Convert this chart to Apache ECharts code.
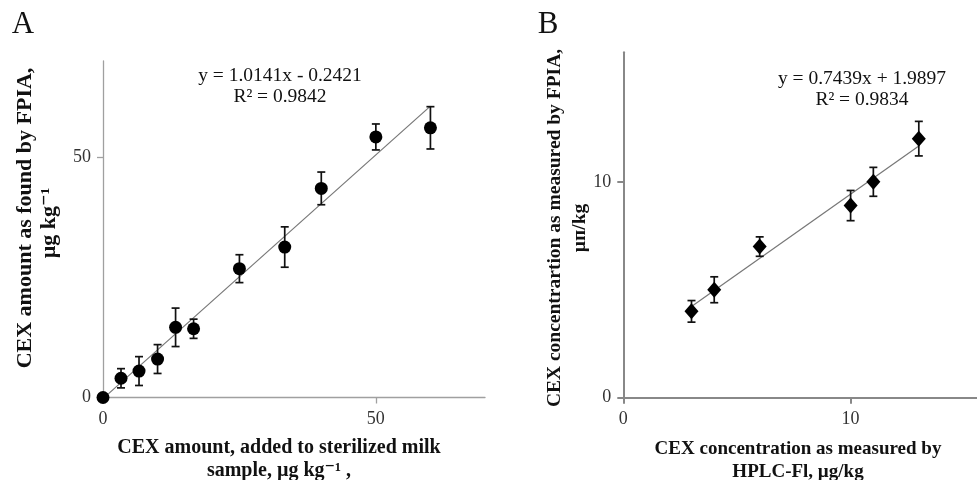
<!DOCTYPE html>
<html>
<head>
<meta charset="utf-8">
<script src="https://cdn.jsdelivr.net/npm/echarts@6/dist/echarts.min.js"></script>
<style>html,body{margin:0;padding:0;background:#fff;}#c{width:977px;height:480px;}</style>
</head>
<body>
<div id="c"></div>
<script>
// Panel A data
const aX = [0, 3.3, 6.6, 10, 13.3, 16.6, 25, 33.3, 40, 50, 60];
const aY = [0, 4.0, 5.5, 8.0, 14.6, 14.3, 26.8, 31.3, 43.5, 54.2, 56.1];
const aErr = [0, 2.0, 3.0, 3.0, 4.0, 2.0, 2.9, 4.2, 3.4, 2.7, 4.4];
const aFit = {slope: 1.0141, intercept: -0.2421, from: 0, to: 60};
const aXTicks = [0, 50];
const aYTicks = [0, 50];
// Panel B data
const bX = [3, 4, 6, 10, 11, 13];
const bY = [4.0, 5.0, 7.0, 8.9, 10.0, 12.0];
const bErr = [0.5, 0.6, 0.45, 0.7, 0.67, 0.8];
const bFit = {slope: 0.7439, intercept: 1.9897, from: 3, to: 13};
const bXTicks = [0, 10];
const bYTicks = [0, 10];

const SERIF = '"Liberation Serif", "DejaVu Serif", serif';
const chart = echarts.init(document.getElementById('c'), null, {renderer: 'canvas'});

function fitLine(f) {
  return [[f.from, f.slope * f.from + f.intercept], [f.to, f.slope * f.to + f.intercept]];
}
function errData(xs, ys, es) {
  return xs.map((x, i) => [x, ys[i] - es[i], ys[i] + es[i]]);
}
function errRender(params, api) {
  const x = api.value(0), lo = api.value(1), hi = api.value(2);
  if (hi - lo <= 0) return null;
  const p1 = api.coord([x, lo]), p2 = api.coord([x, hi]);
  const w = 4;
  const st = {stroke: '#111', lineWidth: 1.7};
  return {type: 'group', children: [
    {type: 'line', shape: {x1: p1[0], y1: p1[1], x2: p2[0], y2: p2[1]}, style: st},
    {type: 'line', shape: {x1: p1[0] - w, y1: p1[1], x2: p1[0] + w, y2: p1[1]}, style: st},
    {type: 'line', shape: {x1: p2[0] - w, y1: p2[1], x2: p2[0] + w, y2: p2[1]}, style: st}
  ]};
}
function axisCfg(gi, max, ticks, lineColor, lw, margin) {
  return {
    gridIndex: gi, type: 'value', min: 0, max: max,
    splitLine: {show: false},
    axisLine: {onZero: false, lineStyle: {color: lineColor, width: lw}},
    axisTick: {show: true, length: 6, customValues: ticks, lineStyle: {color: lineColor, width: lw}},
    axisLabel: {customValues: ticks, fontFamily: SERIF, fontSize: 18, color: '#333', margin: margin}
  };
}
function txt(x, y, text, size, bold, rot) {
  return {type: 'text', x: x, y: y, rotation: rot || 0, silent: true,
    style: {text: text, fontFamily: SERIF, fontSize: size, fontWeight: bold ? 'bold' : 'normal',
      fill: '#111', align: 'center', verticalAlign: 'middle'}};
}

const option = {
  backgroundColor: '#fff',
  animation: false,
  grid: [
    {left: 103, top: 61, width: 382, height: 336.5, outerBoundsMode: 'none', containLabel: false},
    {left: 623.3, top: 52.3, width: 363.7, height: 345.4, outerBoundsMode: 'none', containLabel: false}
  ],
  xAxis: [axisCfg(0, 70, aXTicks, '#a0a0a0', 1.3, 13), axisCfg(1, 16, bXTicks, '#888', 2, 13)],
  yAxis: [axisCfg(0, 70, aYTicks, '#a0a0a0', 1.3, 12), axisCfg(1, 16, bYTicks, '#888', 2, 12)],
  series: [
    {type: 'line', xAxisIndex: 0, yAxisIndex: 0, data: fitLine(aFit), showSymbol: false, symbol: 'none',
      clip: false, lineStyle: {color: '#777', width: 1.2}, z: 1},
    {type: 'custom', xAxisIndex: 0, yAxisIndex: 0, data: errData(aX, aY, aErr), renderItem: errRender,
      encode: {x: 0, y: [1, 2]}, z: 2},
    {type: 'scatter', xAxisIndex: 0, yAxisIndex: 0, data: aX.map((x, i) => [x, aY[i]]),
      symbol: 'circle', symbolSize: 13, itemStyle: {color: '#000', opacity: 1}, clip: false, z: 3},
    {type: 'line', xAxisIndex: 1, yAxisIndex: 1, data: fitLine(bFit), showSymbol: false, symbol: 'none',
      lineStyle: {color: '#777', width: 1.2}, z: 1},
    {type: 'custom', xAxisIndex: 1, yAxisIndex: 1, data: errData(bX, bY, bErr), renderItem: errRender,
      encode: {x: 0, y: [1, 2]}, z: 2},
    {type: 'scatter', xAxisIndex: 1, yAxisIndex: 1, data: bX.map((x, i) => [x, bY[i]]),
      symbol: 'diamond', symbolSize: [14, 16], itemStyle: {color: '#000', opacity: 1}, z: 3}
  ],
  graphic: [
    txt(23, 25, 'A', 31, false),
    txt(548, 25, 'B', 31, false),
    txt(280, 76, 'y = 1.0141x - 0.2421', 19.5, false),
    txt(280, 97, 'R² = 0.9842', 19.5, false),
    txt(862, 79, 'y = 0.7439x + 1.9897', 19.5, false),
    txt(862, 100, 'R² = 0.9834', 19.5, false),
    txt(279, 448, 'CEX amount, added to sterilized milk', 20, true),
    txt(279, 471, 'sample, µg kg⁻¹ ,', 20, true),
    txt(798, 449, 'CEX concentration as measured by', 19, true),
    txt(798, 472, 'HPLC-Fl, µg/kg', 19, true),
    txt(25, 218, 'CEX amount as found by FPIA,', 22, true, Math.PI / 2),
    txt(49, 223, 'µg kg⁻¹', 22, true, Math.PI / 2),
    txt(555, 228, 'CEX concentrartion as measured by FPIA,', 19.5, true, Math.PI / 2),
    txt(580, 228, 'µп/kg', 19.5, true, Math.PI / 2)
  ]
};
chart.setOption(option);
</script>
</body>
</html>
